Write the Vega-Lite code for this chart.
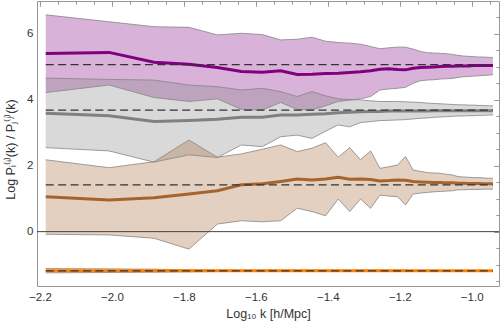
{
  "$schema": "https://vega.github.io/schema/vega-lite/v6.json",
  "width": 462,
  "height": 285,
  "autosize": "none",
  "padding": {"left": 37, "top": 1, "right": 1, "bottom": 42},
  "config": {
    "view": {"stroke": "#999999", "strokeWidth": 1},
    "font": "Liberation Sans",
    "axis": {"domain": false, "grid": false, "tickColor": "#999999", "labelFont": "Liberation Sans", "titleFont": "Liberation Sans", "labelColor": "#333333", "titleColor": "#333333", "labelFontSize": 11.5, "titleFontSize": 12.5, "titleFontWeight": "normal"}
  },
  "datasets": {
    "bands": [
      {"g":"P","x":-2.184,"lo":4.22,"hi":6.58,"m":5.41},
      {"g":"P","x":-2.008,"lo":4.45,"hi":6.37,"m":5.44},
      {"g":"P","x":-1.883,"lo":4.07,"hi":6.22,"m":5.14},
      {"g":"P","x":-1.786,"lo":3.95,"hi":6.20,"m":5.08},
      {"g":"P","x":-1.707,"lo":4.03,"hi":5.97,"m":4.98},
      {"g":"P","x":-1.640,"lo":3.71,"hi":6.02,"m":4.86},
      {"g":"P","x":-1.582,"lo":3.69,"hi":5.98,"m":4.84},
      {"g":"P","x":-1.531,"lo":3.92,"hi":5.82,"m":4.88},
      {"g":"P","x":-1.485,"lo":3.71,"hi":5.84,"m":4.77},
      {"g":"P","x":-1.444,"lo":3.69,"hi":5.90,"m":4.78},
      {"g":"P","x":-1.406,"lo":3.82,"hi":5.78,"m":4.80},
      {"g":"P","x":-1.371,"lo":3.95,"hi":5.74,"m":4.81},
      {"g":"P","x":-1.339,"lo":3.99,"hi":5.72,"m":4.83},
      {"g":"P","x":-1.309,"lo":4.03,"hi":5.69,"m":4.85},
      {"g":"P","x":-1.281,"lo":4.10,"hi":5.62,"m":4.88},
      {"g":"P","x":-1.255,"lo":4.30,"hi":5.55,"m":4.93},
      {"g":"P","x":-1.230,"lo":4.33,"hi":5.58,"m":4.94},
      {"g":"P","x":-1.206,"lo":4.35,"hi":5.60,"m":4.92},
      {"g":"P","x":-1.184,"lo":4.38,"hi":5.60,"m":4.91},
      {"g":"P","x":-1.163,"lo":4.50,"hi":5.54,"m":4.96},
      {"g":"P","x":-1.143,"lo":4.58,"hi":5.47,"m":4.98},
      {"g":"P","x":-1.123,"lo":4.60,"hi":5.43,"m":4.99},
      {"g":"P","x":-1.105,"lo":4.61,"hi":5.42,"m":5.00},
      {"g":"P","x":-1.087,"lo":4.63,"hi":5.41,"m":5.01},
      {"g":"P","x":-1.070,"lo":4.64,"hi":5.40,"m":5.02},
      {"g":"P","x":-1.054,"lo":4.65,"hi":5.38,"m":5.02},
      {"g":"P","x":-1.038,"lo":4.68,"hi":5.35,"m":5.03},
      {"g":"P","x":-1.023,"lo":4.70,"hi":5.33,"m":5.03},
      {"g":"P","x":-1.008,"lo":4.71,"hi":5.32,"m":5.03},
      {"g":"P","x":-0.994,"lo":4.72,"hi":5.31,"m":5.04},
      {"g":"P","x":-0.980,"lo":4.73,"hi":5.30,"m":5.04},
      {"g":"P","x":-0.967,"lo":4.74,"hi":5.30,"m":5.04},
      {"g":"P","x":-0.954,"lo":4.75,"hi":5.29,"m":5.04},
      {"g":"P","x":-0.941,"lo":4.76,"hi":5.28,"m":5.04},

      {"g":"G","x":-2.184,"lo":2.55,"hi":4.66,"m":3.59},
      {"g":"G","x":-2.008,"lo":2.45,"hi":4.62,"m":3.52},
      {"g":"G","x":-1.883,"lo":2.11,"hi":4.60,"m":3.34},
      {"g":"G","x":-1.786,"lo":2.33,"hi":4.45,"m":3.37},
      {"g":"G","x":-1.707,"lo":2.25,"hi":4.40,"m":3.41},
      {"g":"G","x":-1.640,"lo":2.63,"hi":4.30,"m":3.47},
      {"g":"G","x":-1.582,"lo":2.58,"hi":4.35,"m":3.47},
      {"g":"G","x":-1.531,"lo":2.88,"hi":4.25,"m":3.54},
      {"g":"G","x":-1.485,"lo":2.93,"hi":4.10,"m":3.54},
      {"g":"G","x":-1.444,"lo":2.83,"hi":4.25,"m":3.56},
      {"g":"G","x":-1.406,"lo":3.05,"hi":4.12,"m":3.58},
      {"g":"G","x":-1.371,"lo":3.24,"hi":4.03,"m":3.61},
      {"g":"G","x":-1.339,"lo":3.18,"hi":4.01,"m":3.62},
      {"g":"G","x":-1.309,"lo":3.31,"hi":4.00,"m":3.64},
      {"g":"G","x":-1.281,"lo":3.34,"hi":3.97,"m":3.65},
      {"g":"G","x":-1.255,"lo":3.37,"hi":3.95,"m":3.65},
      {"g":"G","x":-1.230,"lo":3.38,"hi":3.95,"m":3.66},
      {"g":"G","x":-1.206,"lo":3.39,"hi":3.95,"m":3.66},
      {"g":"G","x":-1.184,"lo":3.40,"hi":3.94,"m":3.66},
      {"g":"G","x":-1.163,"lo":3.42,"hi":3.93,"m":3.66},
      {"g":"G","x":-1.143,"lo":3.44,"hi":3.92,"m":3.66},
      {"g":"G","x":-1.123,"lo":3.45,"hi":3.90,"m":3.66},
      {"g":"G","x":-1.105,"lo":3.47,"hi":3.89,"m":3.67},
      {"g":"G","x":-1.087,"lo":3.48,"hi":3.88,"m":3.67},
      {"g":"G","x":-1.070,"lo":3.49,"hi":3.87,"m":3.67},
      {"g":"G","x":-1.054,"lo":3.50,"hi":3.86,"m":3.67},
      {"g":"G","x":-1.038,"lo":3.51,"hi":3.85,"m":3.67},
      {"g":"G","x":-1.023,"lo":3.51,"hi":3.85,"m":3.67},
      {"g":"G","x":-1.008,"lo":3.52,"hi":3.84,"m":3.67},
      {"g":"G","x":-0.994,"lo":3.52,"hi":3.84,"m":3.67},
      {"g":"G","x":-0.980,"lo":3.53,"hi":3.83,"m":3.67},
      {"g":"G","x":-0.967,"lo":3.53,"hi":3.83,"m":3.67},
      {"g":"G","x":-0.954,"lo":3.54,"hi":3.82,"m":3.67},
      {"g":"G","x":-0.941,"lo":3.54,"hi":3.82,"m":3.67},

      {"g":"B","x":-2.184,"lo":-0.08,"hi":2.18,"m":1.06},
      {"g":"B","x":-2.008,"lo":-0.10,"hi":1.94,"m":0.96},
      {"g":"B","x":-1.883,"lo":-0.20,"hi":2.12,"m":1.03},
      {"g":"B","x":-1.786,"lo":-0.53,"hi":2.78,"m":1.14},
      {"g":"B","x":-1.707,"lo":0.23,"hi":2.26,"m":1.24},
      {"g":"B","x":-1.640,"lo":0.33,"hi":2.36,"m":1.42},
      {"g":"B","x":-1.582,"lo":0.30,"hi":2.50,"m":1.45},
      {"g":"B","x":-1.531,"lo":0.33,"hi":2.63,"m":1.52},
      {"g":"B","x":-1.485,"lo":0.71,"hi":2.43,"m":1.60},
      {"g":"B","x":-1.444,"lo":0.61,"hi":2.53,"m":1.57},
      {"g":"B","x":-1.406,"lo":0.48,"hi":2.70,"m":1.60},
      {"g":"B","x":-1.371,"lo":0.99,"hi":2.26,"m":1.65},
      {"g":"B","x":-1.339,"lo":0.61,"hi":2.55,"m":1.59},
      {"g":"B","x":-1.309,"lo":0.99,"hi":2.18,"m":1.60},
      {"g":"B","x":-1.281,"lo":0.71,"hi":2.45,"m":1.58},
      {"g":"B","x":-1.255,"lo":1.11,"hi":1.92,"m":1.54},
      {"g":"B","x":-1.230,"lo":1.08,"hi":1.97,"m":1.55},
      {"g":"B","x":-1.206,"lo":1.06,"hi":2.02,"m":1.57},
      {"g":"B","x":-1.184,"lo":0.81,"hi":2.28,"m":1.56},
      {"g":"B","x":-1.163,"lo":1.14,"hi":1.87,"m":1.52},
      {"g":"B","x":-1.143,"lo":1.17,"hi":1.83,"m":1.51},
      {"g":"B","x":-1.123,"lo":1.19,"hi":1.79,"m":1.50},
      {"g":"B","x":-1.105,"lo":1.21,"hi":1.78,"m":1.49},
      {"g":"B","x":-1.087,"lo":1.22,"hi":1.77,"m":1.49},
      {"g":"B","x":-1.070,"lo":1.23,"hi":1.74,"m":1.48},
      {"g":"B","x":-1.054,"lo":1.24,"hi":1.72,"m":1.48},
      {"g":"B","x":-1.038,"lo":1.27,"hi":1.67,"m":1.47},
      {"g":"B","x":-1.023,"lo":1.27,"hi":1.66,"m":1.47},
      {"g":"B","x":-1.008,"lo":1.28,"hi":1.65,"m":1.46},
      {"g":"B","x":-0.994,"lo":1.28,"hi":1.64,"m":1.46},
      {"g":"B","x":-0.980,"lo":1.28,"hi":1.64,"m":1.46},
      {"g":"B","x":-0.967,"lo":1.29,"hi":1.63,"m":1.45},
      {"g":"B","x":-0.954,"lo":1.29,"hi":1.62,"m":1.45},
      {"g":"B","x":-0.941,"lo":1.29,"hi":1.62,"m":1.45},

      {"g":"O","x":-2.184,"lo":-1.25,"hi":-1.12,"m":-1.19},
      {"g":"O","x":-2.008,"lo":-1.24,"hi":-1.13,"m":-1.19},
      {"g":"O","x":-1.883,"lo":-1.23,"hi":-1.14,"m":-1.19},
      {"g":"O","x":-1.786,"lo":-1.22,"hi":-1.16,"m":-1.19},
      {"g":"O","x":-1.707,"lo":-1.21,"hi":-1.17,"m":-1.19},
      {"g":"O","x":-1.640,"lo":-1.21,"hi":-1.17,"m":-1.19},
      {"g":"O","x":-1.582,"lo":-1.21,"hi":-1.17,"m":-1.19},
      {"g":"O","x":-1.531,"lo":-1.21,"hi":-1.17,"m":-1.19},
      {"g":"O","x":-1.485,"lo":-1.21,"hi":-1.17,"m":-1.19},
      {"g":"O","x":-1.444,"lo":-1.21,"hi":-1.17,"m":-1.19},
      {"g":"O","x":-1.406,"lo":-1.21,"hi":-1.17,"m":-1.19},
      {"g":"O","x":-1.371,"lo":-1.21,"hi":-1.17,"m":-1.19},
      {"g":"O","x":-1.339,"lo":-1.21,"hi":-1.17,"m":-1.19},
      {"g":"O","x":-1.309,"lo":-1.21,"hi":-1.17,"m":-1.19},
      {"g":"O","x":-1.281,"lo":-1.21,"hi":-1.17,"m":-1.19},
      {"g":"O","x":-1.255,"lo":-1.21,"hi":-1.17,"m":-1.19},
      {"g":"O","x":-1.230,"lo":-1.21,"hi":-1.17,"m":-1.19},
      {"g":"O","x":-1.206,"lo":-1.21,"hi":-1.17,"m":-1.19},
      {"g":"O","x":-1.184,"lo":-1.21,"hi":-1.17,"m":-1.19},
      {"g":"O","x":-1.163,"lo":-1.20,"hi":-1.18,"m":-1.19},
      {"g":"O","x":-1.143,"lo":-1.20,"hi":-1.18,"m":-1.19},
      {"g":"O","x":-1.123,"lo":-1.20,"hi":-1.18,"m":-1.19},
      {"g":"O","x":-1.105,"lo":-1.20,"hi":-1.18,"m":-1.19},
      {"g":"O","x":-1.087,"lo":-1.20,"hi":-1.18,"m":-1.19},
      {"g":"O","x":-1.070,"lo":-1.20,"hi":-1.18,"m":-1.19},
      {"g":"O","x":-1.054,"lo":-1.20,"hi":-1.18,"m":-1.19},
      {"g":"O","x":-1.038,"lo":-1.20,"hi":-1.18,"m":-1.19},
      {"g":"O","x":-1.023,"lo":-1.20,"hi":-1.18,"m":-1.19},
      {"g":"O","x":-1.008,"lo":-1.20,"hi":-1.18,"m":-1.19},
      {"g":"O","x":-0.994,"lo":-1.20,"hi":-1.18,"m":-1.19},
      {"g":"O","x":-0.980,"lo":-1.20,"hi":-1.18,"m":-1.19},
      {"g":"O","x":-0.967,"lo":-1.20,"hi":-1.18,"m":-1.19},
      {"g":"O","x":-0.954,"lo":-1.20,"hi":-1.18,"m":-1.19},
      {"g":"O","x":-0.941,"lo":-1.20,"hi":-1.18,"m":-1.19}
    ],
    "refs": [
      {"g":"P","xs":-2.184,"xe":-0.941,"y":5.07},
      {"g":"G","xs":-2.184,"xe":-0.941,"y":3.69},
      {"g":"B","xs":-2.184,"xe":-0.941,"y":1.42},
      {"g":"O","xs":-2.184,"xe":-0.941,"y":-1.19}
    ]
  },
  "resolve": {"axis": {"x": "independent", "y": "independent"}},
  "layer": [
    {
      "data": {"name": "bands"},
      "mark": {"type": "area", "opacity": 0.3},
      "encoding": {
        "x": {"field": "x", "type": "quantitative", "scale": {"domain": [-2.2083, -0.9241], "nice": false, "zero": false},
              "axis": {"values": [-2.2, -2.0, -1.8, -1.6, -1.4, -1.2, -1.0], "format": ".1f", "ticks": false, "labelPadding": 5, "title": "Log₁₀ k [h/Mpc]", "titleY": 27, "titleBaseline": "middle"}},
        "y": {"field": "lo", "type": "quantitative", "scale": {"domain": [-1.65, 7.0], "nice": false, "zero": false},
              "axis": {"values": [0, 2, 4, 6], "ticks": false, "labelPadding": 4, "title": "Log Pᵢ⁽ⁱ⁾(k) / Pⱼ⁽ʲ⁾(k)", "titleX": -27, "titleY": 148, "titleBaseline": "middle"}},
        "y2": {"field": "hi"},
        "color": {"field": "g", "type": "nominal", "scale": {"domain": ["P", "G", "B", "O"], "range": ["#800080", "#808080", "#a5642d", "#ff8000"]}, "legend": null}
      }
    },
    {
      "data": {"name": "bands"},
      "mark": {"type": "line", "color": "#858585", "strokeWidth": 0.8},
      "encoding": {
        "x": {"field": "x", "type": "quantitative",
              "axis": {"values": [-2.2,-2.15,-2.1,-2.05,-2.0,-1.95,-1.9,-1.85,-1.8,-1.75,-1.7,-1.65,-1.6,-1.55,-1.5,-1.45,-1.4,-1.35,-1.3,-1.25,-1.2,-1.15,-1.1,-1.05,-1.0,-0.95], "labels": false, "tickSize": -3, "title": null}},
        "y": {"field": "lo", "type": "quantitative",
              "axis": {"values": [-1.5,-1,-0.5,0,0.5,1,1.5,2,2.5,3,3.5,4,4.5,5,5.5,6,6.5], "labels": false, "tickSize": -3, "title": null}},
        "detail": {"field": "g"}
      }
    },
    {
      "data": {"name": "bands"},
      "mark": {"type": "line", "color": "#858585", "strokeWidth": 0.8},
      "encoding": {
        "x": {"field": "x", "type": "quantitative",
              "axis": {"orient": "top", "values": [-2.2,-2.15,-2.1,-2.05,-2.0,-1.95,-1.9,-1.85,-1.8,-1.75,-1.7,-1.65,-1.6,-1.55,-1.5,-1.45,-1.4,-1.35,-1.3,-1.25,-1.2,-1.15,-1.1,-1.05,-1.0,-0.95], "labels": false, "tickSize": -3, "title": null}},
        "y": {"field": "hi", "type": "quantitative",
              "axis": {"orient": "right", "values": [-1.5,-1,-0.5,0,0.5,1,1.5,2,2.5,3,3.5,4,4.5,5,5.5,6,6.5], "labels": false, "tickSize": -3, "title": null}},
        "detail": {"field": "g"}
      }
    },
    {
      "data": {"values": [{}]},
      "mark": {"type": "rule", "color": "#444444", "strokeWidth": 1},
      "encoding": {"y": {"datum": 0, "type": "quantitative", "axis": null}}
    },
    {
      "data": {"name": "bands"},
      "mark": {"type": "line", "strokeWidth": 3},
      "encoding": {
        "x": {"field": "x", "type": "quantitative",
              "axis": {"values": [-2.2, -2.0, -1.8, -1.6, -1.4, -1.2, -1.0], "labels": false, "tickSize": -5, "title": null}},
        "y": {"field": "m", "type": "quantitative",
              "axis": {"values": [0, 2, 4, 6], "labels": false, "tickSize": -5, "title": null}},
        "color": {"field": "g", "type": "nominal", "legend": null}
      }
    },
    {
      "data": {"name": "refs"},
      "mark": {"type": "rule", "color": "#333333", "strokeWidth": 1.2, "strokeDash": [8, 4.4]},
      "encoding": {
        "x": {"field": "xs", "type": "quantitative",
              "axis": {"orient": "top", "values": [-2.2, -2.0, -1.8, -1.6, -1.4, -1.2, -1.0], "labels": false, "tickSize": -5, "title": null}},
        "x2": {"field": "xe"},
        "y": {"field": "y", "type": "quantitative",
              "axis": {"orient": "right", "values": [0, 2, 4, 6], "labels": false, "tickSize": -5, "title": null}}
      }
    }
  ]
}
